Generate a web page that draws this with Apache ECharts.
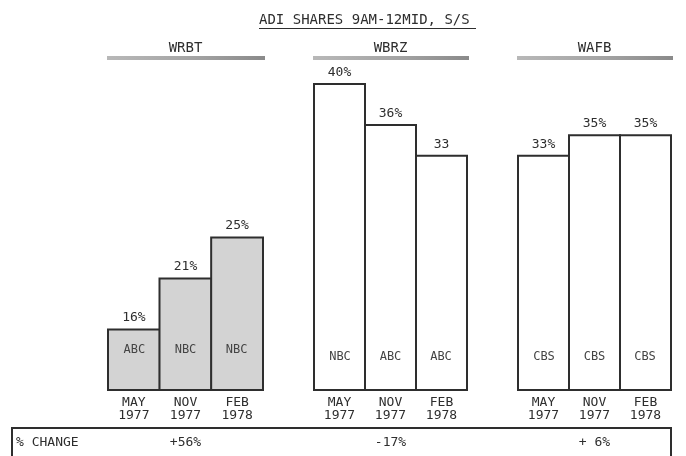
<!DOCTYPE html>
<html>
<head>
<meta charset="utf-8">
<script src="https://cdn.jsdelivr.net/npm/echarts@6/dist/echarts.min.js"></script>
<style>
html,body{margin:0;padding:0;background:#fff;}
#chart{width:686px;height:456px;}
</style>
</head>
<body>
<div id="chart"></div>
<script>
// ---- data ----
var chartTitle = 'ADI SHARES 9AM-12MID, S/S';
var stations = ['WRBT', 'WBRZ', 'WAFB'];
var periods = ['MAY\n1977', 'NOV\n1977', 'FEB\n1978'];
var wrbtShares = [16, 21, 25];
var wbrzShares = [40, 36, 33];
var wafbShares = [33, 35, 35];
var wrbtLabels = ['16%', '21%', '25%'];
var wbrzLabels = ['40%', '36%', '33'];
var wafbLabels = ['33%', '35%', '35%'];
var wrbtNetworks = ['ABC', 'NBC', 'NBC'];
var wbrzNetworks = ['NBC', 'ABC', 'ABC'];
var wafbNetworks = ['CBS', 'CBS', 'CBS'];
var changeLabel = '% CHANGE';
var pctChange = ['+56%', '-17%', '+ 6%'];

// ---- layout ----
var FONT = '"DejaVu Sans Mono", monospace';
var INK = '#2e2e2e';
var grids = [
  {left: 108, width: 155},
  {left: 314, width: 153},
  {left: 518, width: 153}
];
var values = [wrbtShares, wbrzShares, wafbShares];
var topLabels = [wrbtLabels, wbrzLabels, wafbLabels];
var nets = [wrbtNetworks, wbrzNetworks, wafbNetworks];
var fills = ['#d3d3d3', '#ffffff', '#ffffff'];
var insideDist = [34, 27, 27];

var chart = echarts.init(document.getElementById('chart'));

var option = {
  backgroundColor: '#ffffff',
  animation: false,
  grid: grids.map(function (g) {
    return {left: g.left, width: g.width, top: 83, height: 307};
  }),
  xAxis: grids.map(function (g, i) {
    return {
      type: 'category', gridIndex: i, data: periods,
      axisLine: {show: false}, axisTick: {show: false},
      axisLabel: {fontFamily: FONT, fontSize: 13, color: INK, lineHeight: 13, margin: 6}
    };
  }),
  yAxis: grids.map(function (g, i) {
    return {type: 'value', gridIndex: i, min: 10, max: 40, show: false, splitLine: {show: false}};
  }),
  series: []
};

values.forEach(function (vals, i) {
  var bw = Math.round(grids[i].width / 3) + 2;
  option.series.push({
    type: 'bar', xAxisIndex: i, yAxisIndex: i,
    data: vals, barWidth: bw, barCategoryGap: 0,
    itemStyle: {color: fills[i], borderColor: INK, borderWidth: 2},
    label: {
      show: true, position: 'top', distance: 4,
      fontFamily: FONT, fontSize: 13, color: INK,
      formatter: function (p) { return topLabels[i][p.dataIndex]; }
    },
    z: 2
  });
  // network names inside bars (same bars, label only)
  option.series.push({
    type: 'bar', xAxisIndex: i, yAxisIndex: i,
    data: vals, barWidth: bw, barCategoryGap: 0, barGap: '-100%',
    itemStyle: {color: 'rgba(0,0,0,0)', borderWidth: 0},
    label: {
      show: true, position: 'insideBottom', distance: insideDist[i],
      fontFamily: FONT, fontSize: 12, color: '#444',
      formatter: function (p) { return nets[i][p.dataIndex]; }
    },
    z: 3, silent: true
  });
});

var graphics = [];
// title
graphics.push({type: 'text', left: 259, top: 13,
  style: {text: chartTitle, font: '14px ' + FONT, fill: INK}});
graphics.push({type: 'line', shape: {x1: 259, y1: 28.5, x2: 476, y2: 28.5},
  style: {stroke: INK, lineWidth: 1.2}});
// station headers with gray rule
stations.forEach(function (s, i) {
  var g = grids[i];
  var cx = g.left + g.width / 2;
  graphics.push({type: 'text', x: cx, y: 48,
    style: {text: s, font: '14px ' + FONT, fill: INK, textAlign: 'center', textVerticalAlign: 'middle'}});
  graphics.push({type: 'rect', shape: {x: g.left - 1, y: 56, width: g.width + 3, height: 4},
    style: {fill: new echarts.graphic.LinearGradient(0, 0, 1, 0, [
      {offset: 0, color: '#b8b8b8'}, {offset: 0.5, color: '#a6a6a6'}, {offset: 1, color: '#8a8a8a'}])}});
});
// % change box
graphics.push({type: 'rect', shape: {x: 12, y: 428, width: 659, height: 40},
  style: {fill: 'none', stroke: INK, lineWidth: 2}});
graphics.push({type: 'text', x: 16, y: 443,
  style: {text: changeLabel, font: '13px ' + FONT, fill: INK, textVerticalAlign: 'middle'}});
pctChange.forEach(function (t, i) {
  var g = grids[i];
  graphics.push({type: 'text', x: g.left + g.width / 2, y: 443,
    style: {text: t, font: '13px ' + FONT, fill: INK, textAlign: 'center', textVerticalAlign: 'middle'}});
});
option.graphic = graphics;

chart.setOption(option);
</script>
</body>
</html>
